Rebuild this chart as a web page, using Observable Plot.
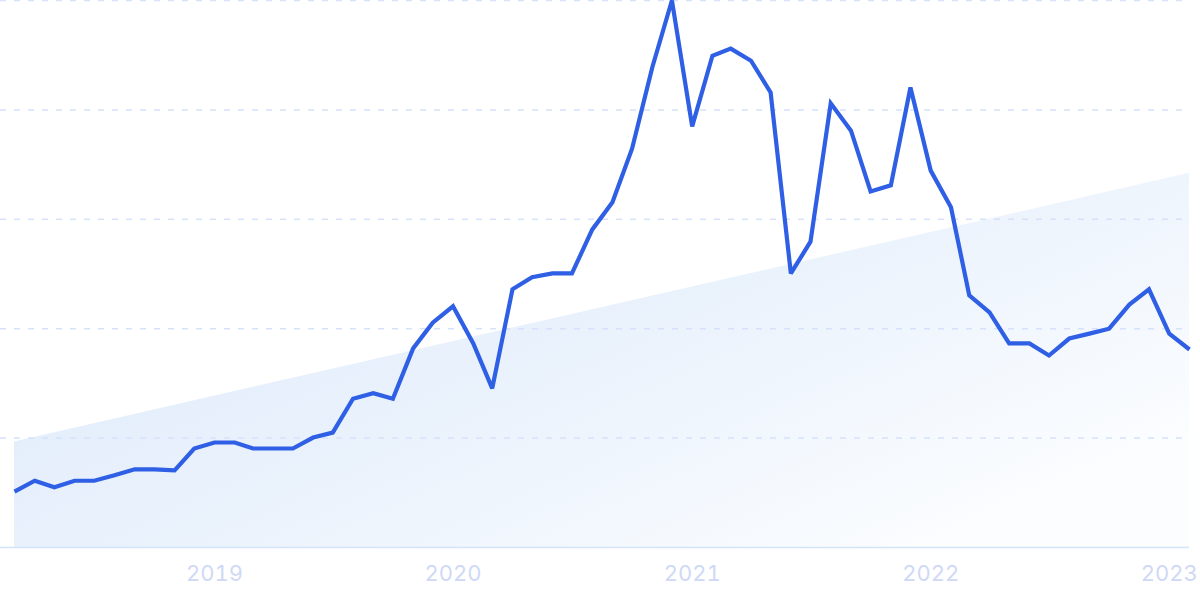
<!DOCTYPE html>
<html>
<head>
<meta charset="utf-8">
<script src="https://cdn.jsdelivr.net/npm/d3@7"></script>
<script src="https://cdn.jsdelivr.net/npm/@observablehq/plot@0.6"></script>
<style>
  html, body { margin: 0; padding: 0; background: #ffffff; }
  #chart svg { display: block; }
</style>
</head>
<body>
<div id="chart"></div>
<script>
// Monthly series, Mar 2018 – Feb 2023 (relative interest, 0–100)
const startMonth = "2018-03-01";
const values = [
  10.2, 12.2, 11.0, 12.2, 12.2, 13.2, 14.3, 14.3, 14.1, 18.1,
  19.2, 19.2, 18.1, 18.1, 18.1, 20.1, 21.0, 27.2, 28.2, 27.2,
  36.4, 41.1, 44.1, 37.3, 29.1, 47.2, 49.4, 50.1, 50.1, 58.1,
  63.1, 72.9, 87.8, 100, 77.0, 89.9, 91.2, 89.0, 83.2, 50.1,
  55.9, 81.2, 76.2, 65.1, 66.2, 84.1, 68.9, 62.2, 46.1, 43.0,
  37.3, 37.3, 35.1, 38.2, 39.1, 40.0, 44.4, 47.2, 39.1, 36.2
];
// Trend line endpoints
const trendDates = ["2018-03-01", "2023-02-01"];
const trendValues = [19.3, 68.4];
// Axis ticks
const gridValues = [0, 20, 40, 60, 80, 100];
const tickYears = ["2019-01-01", "2020-01-01", "2021-01-01", "2022-01-01", "2023-01-01"];

const start = new Date(startMonth);
const data = values.map((v, i) => ({
  date: new Date(Date.UTC(start.getUTCFullYear(), start.getUTCMonth() + i, 1)),
  value: v
}));
const trend = trendDates.map((d, i) => ({date: new Date(d), value: trendValues[i]}));
const ticks = tickYears.map(d => new Date(d));

const defs = () => {
  const svg = d3.create("svg:defs");
  const g = svg.append("linearGradient")
    .attr("id", "trendGrad")
    .attr("x1", 0).attr("y1", 0).attr("x2", 1).attr("y2", 0.7);
  g.append("stop").attr("offset", "0%").attr("stop-color", "#dce9fa");
  g.append("stop").attr("offset", "55%").attr("stop-color", "#eaf2fc");
  g.append("stop").attr("offset", "100%").attr("stop-color", "#fbfdff");
  return svg.node();
};

const chart = Plot.plot({
  width: 1200,
  height: 599,
  marginLeft: 14,
  marginRight: 11,
  marginTop: 0,
  marginBottom: 52,
  style: {background: "#ffffff", fontFamily: "Inter, 'Liberation Sans', sans-serif", overflow: "visible"},
  x: {type: "utc", domain: [data[0].date, data[data.length - 1].date]},
  y: {domain: [0, 100], axis: null},
  marks: [
    defs,
    Plot.areaY(trend, {x: "date", y: "value", fill: "url(#trendGrad)"}),
    Plot.ruleY(gridValues.filter(d => d > 0), {
      stroke: "#d6e2fc", strokeWidth: 1.5, strokeDasharray: "6,8", insetLeft: -14
    }),
    Plot.ruleY([0], {stroke: "#d4e4f9", strokeWidth: 1.5, insetLeft: -14}),
    Plot.lineY(data, {
      x: "date", y: "value", stroke: "#2e5fe4", strokeWidth: 4.2,
      strokeLinejoin: "miter", strokeMiterlimit: 3, strokeLinecap: "butt"
    }),
    Plot.axisX(ticks, {
      tickSize: 0, tickPadding: 18, fontSize: 22, color: "#cfd9f6",
      tickFormat: d3.utcFormat("%Y"), label: null
    })
  ]
});
document.getElementById("chart").appendChild(chart);
</script>
</body>
</html>
